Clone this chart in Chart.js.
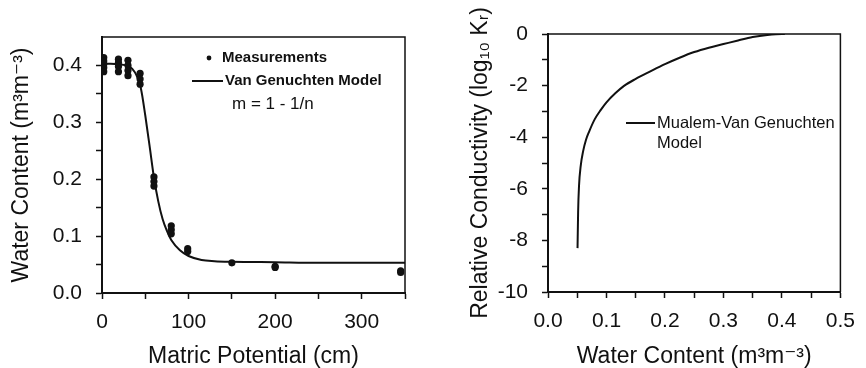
<!DOCTYPE html>
<html>
<head>
<meta charset="utf-8">
<script src="https://cdn.jsdelivr.net/npm/chart.js@4.4.1/dist/chart.umd.min.js"></script>
<style>
  body { margin: 0; background: #fff; }
  #wrap { position: relative; width: 866px; height: 368px; }
  canvas { position: absolute; top: 0; }
</style>
</head>
<body>
<div id="wrap">
  <canvas id="retention" width="433" height="368" style="left:0"></canvas>
  <canvas id="conductivity" width="433" height="368" style="left:433px"></canvas>
</div>
<script>
// left panel - water retention
const measPotential = [2, 2, 2, 2, 2, 19, 19, 19, 19, 30, 30, 30, 30, 44, 44, 44, 60, 60, 60, 80, 80, 80, 99, 99, 150, 200, 200, 345, 345]
const measContent = [0.414, 0.408, 0.402, 0.396, 0.389, 0.411, 0.405, 0.398, 0.389, 0.409, 0.4, 0.391, 0.382, 0.386, 0.376, 0.367, 0.204, 0.196, 0.188, 0.118, 0.111, 0.104, 0.078, 0.073, 0.053, 0.047, 0.045, 0.039, 0.036]
const modelPotential = [0, 10, 20, 30, 35, 40, 45, 50, 55, 60, 65, 70, 75, 80, 90, 100, 115, 130, 150, 200, 250, 300, 350]
const modelContent = [0.403, 0.403, 0.402, 0.399, 0.394, 0.382, 0.359, 0.312, 0.258, 0.203, 0.161, 0.13, 0.109, 0.093, 0.075, 0.065, 0.058, 0.056, 0.055, 0.054, 0.053, 0.053, 0.053]
const potentialTicks = [0, 50, 100, 150, 200, 250, 300, 350]
const potentialLabels = ['0', '', '100', '', '200', '', '300', '']
const contentTicks = [0, 0.05, 0.1, 0.15, 0.2, 0.25, 0.3, 0.35, 0.4]
const contentLabels = ['0.0', '', '0.1', '', '0.2', '', '0.3', '', '0.4']

// right panel - relative conductivity
const kContent = [0.0505, 0.0515, 0.053, 0.056, 0.06, 0.065, 0.07, 0.08, 0.09, 0.1, 0.115, 0.13, 0.15, 0.175, 0.2, 0.225, 0.25, 0.275, 0.3, 0.325, 0.35, 0.375, 0.4, 0.405]
const kLog = [-8.3, -6.9, -5.9, -5.1, -4.55, -4.1, -3.8, -3.3, -2.95, -2.65, -2.3, -2.01, -1.74, -1.45, -1.17, -0.92, -0.7, -0.53, -0.39, -0.25, -0.12, -0.04, 0, 0]
const kContentTicks = [0, 0.05, 0.1, 0.15, 0.2, 0.25, 0.3, 0.35, 0.4, 0.45, 0.5]
const kContentLabels = ['0.0', '', '0.1', '', '0.2', '', '0.3', '', '0.4', '', '0.5']
const logTicks = [-10, -9, -8, -7, -6, -5, -4, -3, -2, -1, 0]
const logLabels = ['-10', '', '-8', '', '-6', '', '-4', '', '-2', '', '0']

const family = "'Liberation Sans', 'DejaVu Sans', Arial, sans-serif"
Chart.defaults.font.family = family
Chart.defaults.color = '#111'

const ink = '#111'

function axis(ticks, labels, min, max, size, title, tickPad, titlePad){
    return {
        type: 'linear',
        min: min,
        max: max,
        afterBuildTicks: s => { s.ticks = ticks.map(v => ({value: v})) },
        afterFit: s => {
            if(s.isHorizontal()){
                s.height = size
            }else{
                s.width = size
            }
        },
        ticks: {
            autoSkip: false,
            maxRotation: 0,
            padding: tickPad,
            font: {size: 21},
            color: ink,
            callback: (v, i) => labels[i]
        },
        grid: {
            drawOnChartArea: false,
            drawTicks: true,
            tickLength: 6,
            tickColor: ink,
            tickWidth: 1.5
        },
        border: {display: true, color: ink, width: 2},
        title: {
            display: true,
            text: title,
            color: ink,
            font: {size: 23, lineHeight: 1},
            padding: titlePad
        }
    }
}

// top + right sides of the box
const frame = {
    id: 'frame',
    afterDraw(chart){
        const {ctx, chartArea} = chart
        ctx.save()
        ctx.strokeStyle = ink
        ctx.lineWidth = 1.5
        ctx.beginPath()
        ctx.moveTo(chartArea.left, chartArea.top)
        ctx.lineTo(chartArea.right, chartArea.top)
        ctx.lineTo(chartArea.right, chartArea.bottom)
        ctx.stroke()
        ctx.restore()
    }
}

// legend drawn inside the plot box
const insideLegend = {
    id: 'insideLegend',
    afterDraw(chart, args, opts){
        const ctx = chart.ctx
        ctx.save()
        ctx.fillStyle = ink
        ctx.strokeStyle = ink
        ctx.textBaseline = 'middle'
        ctx.textAlign = 'left'
        opts.items.forEach(it => {
            ctx.font = (it.font || '16.5px') + ' ' + family
            if(it.kind == 'dot'){
                ctx.beginPath()
                ctx.arc(it.x, it.y, 2.4, 0, Math.PI * 2)
                ctx.fill()
            }else if(it.kind == 'line'){
                ctx.lineWidth = 2
                ctx.beginPath()
                ctx.moveTo(it.x, it.y)
                ctx.lineTo(it.x2, it.y)
                ctx.stroke()
            }
            if(it.text) ctx.fillText(it.text, it.tx, it.y)
        })
        ctx.restore()
    }
}

new Chart(document.getElementById('retention'), {
    type: 'scatter',
    data: {
        datasets: [{
            label: 'Measurements',
            data: measPotential.map((x, i) => ({x: x, y: measContent[i]})),
            pointRadius: 3.6,
            pointBackgroundColor: ink,
            pointBorderWidth: 0,
            showLine: false
        }, {
            label: 'Van Genuchten Model',
            data: modelPotential.map((x, i) => ({x: x, y: modelContent[i]})),
            showLine: true,
            pointRadius: 0,
            borderColor: ink,
            borderWidth: 2,
            cubicInterpolationMode: 'monotone'
        }]
    },
    options: {
        responsive: false,
        animation: false,
        events: [],
        layout: {padding: {left: 0, top: 37, right: 28, bottom: 0}},
        plugins: {
            legend: {display: false},
            tooltip: {enabled: false},
            insideLegend: {
                items: [
                    {kind: 'dot', x: 209, y: 58, text: 'Measurements', tx: 222, font: 'bold 15px'},
                    {kind: 'line', x: 192, x2: 223, y: 81, text: 'Van Genuchten Model', tx: 225, font: 'bold 15px'},
                    {kind: 'text', y: 104, text: 'm = 1 - 1/n', tx: 232, font: '17px'}
                ]
            }
        },
        scales: {
            x: axis(potentialTicks, potentialLabels, 0, 350, 75, 'Matric Potential (cm)', 11, {top: 0, bottom: 0}),
            y: axis(contentTicks, contentLabels, 0, 0.45, 102, 'Water Content (m³m⁻³)', 14, {top: 10, bottom: 0})
        }
    },
    plugins: [frame, insideLegend]
})

new Chart(document.getElementById('conductivity'), {
    type: 'scatter',
    data: {
        datasets: [{
            label: 'Mualem-Van Genuchten Model',
            data: kContent.map((x, i) => ({x: x, y: kLog[i]})),
            showLine: true,
            pointRadius: 0,
            borderColor: ink,
            borderWidth: 2,
            cubicInterpolationMode: 'monotone'
        }]
    },
    options: {
        responsive: false,
        animation: false,
        events: [],
        layout: {padding: {left: 0, top: 34, right: 17, bottom: 0}},
        plugins: {
            legend: {display: false},
            tooltip: {enabled: false},
            insideLegend: {
                items: [
                    {kind: 'line', x: 193, x2: 222, y: 123, text: 'Mualem-Van Genuchten', tx: 224},
                    {kind: 'text', y: 143, text: 'Model', tx: 224}
                ]
            }
        },
        scales: {
            x: axis(kContentTicks, kContentLabels, 0, 0.5, 76, 'Water Content (m³m⁻³)', 11, {top: 0, bottom: 0}),
            y: axis(logTicks, logLabels, -10, 0, 115, 'Relative Conductivity (log₁₀ Kᵣ)', 14, {top: 36, bottom: 0})
        }
    },
    plugins: [frame, insideLegend]
})
</script>
</body>
</html>
